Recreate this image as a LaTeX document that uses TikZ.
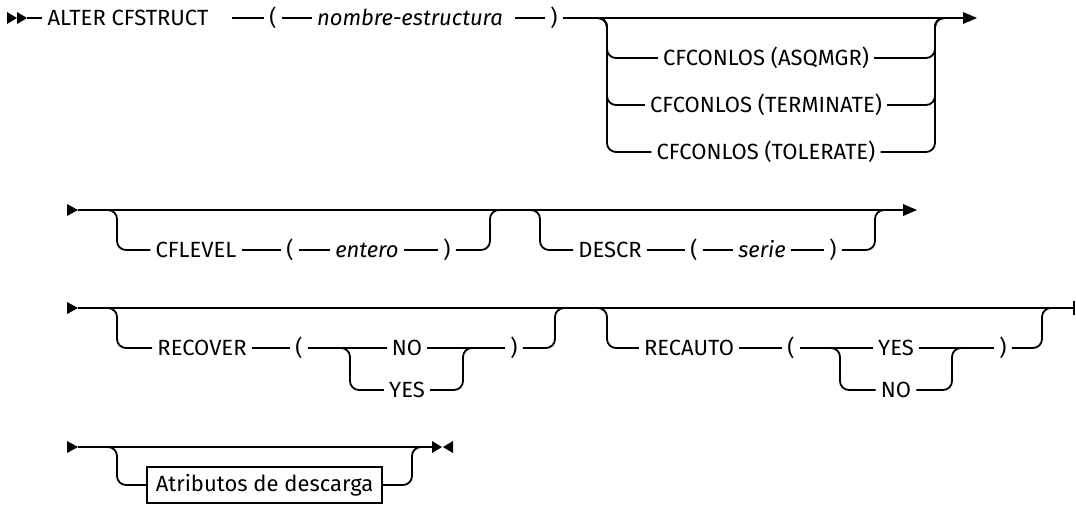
\documentclass[tikz,border=0pt]{standalone}
\usepackage{fontspec}
\newfontfamily\dfont{Fira Sans}
\tikzset{
  ln/.style={line width=1.8pt},
  rr/.style={line width=1.8pt, rounded corners=9pt},
  lbl/.style={inner xsep=5pt, inner ysep=0pt, text height=15.2pt, text depth=0pt, anchor=center, font=\dfont\fontsize{22}{26}\selectfont},
  arg/.style={lbl, font=\dfont\fontsize{22}{26}\selectfont\itshape},
  boxed/.style={draw, line width=1.8pt, inner xsep=8pt, minimum width=235pt, minimum height=36pt, anchor=center, font=\dfont\fontsize{22}{26}\selectfont},
}
\begin{document}
\begin{tikzpicture}[x=1pt,y=-1pt]
\useasboundingbox (0,0) rectangle (1076,504);
% ---------------- Row 1 ----------------
\fill (7,12) -- (17,18) -- (7,24) -- cycle;
\fill (17,12) -- (27,18) -- (17,24) -- cycle;
\coordinate (s1) at (27,18);
\node[lbl] (alter) at (128,18) {ALTER CFSTRUCT};
\coordinate (g1) at (232,18);
\node[lbl] (lp1) at (273,18) {(};
\node[arg] (nm) at (410,18) {nombre-estructura};
\coordinate (g2) at (515,18);
\node[lbl] (rp1) at (554,18) {)};
\coordinate (e1) at (963,18);
\draw[ln] (s1) -- (alter.west);
\draw[ln] (g1) -- (lp1.west);
\draw[ln] (lp1.east) -- (nm.west);
\draw[ln] (g2) -- (rp1.west);
\draw[ln] (rp1.east) -- (e1);
\fill (e1) ++(0,-6) -- ++(14,6) -- ++(-14,6) -- cycle;
\node[lbl] (o1) at (766,58) {CFCONLOS (ASQMGR)};
\node[lbl] (o2) at (766,105) {CFCONLOS (TERMINATE)};
\node[lbl] (o3) at (766,152) {CFCONLOS (TOLERATE)};
\coordinate (b1l) at (597,18);
\coordinate (b1r) at (945,18);
\foreach \n/\y in {o1/58,o2/105,o3/152}{
  \draw[rr] (b1l) -- (607,18) -- (607,\y) -- (\n.west);
  \draw[rr] (\n.east) -- (935,\y) -- (935,18) -- (b1r);
}
% ---------------- Row 2 ----------------
\fill (67,204) -- (78,210) -- (67,216) -- cycle;
\coordinate (s2) at (78,210);
\coordinate (e2) at (903,210);
\draw[ln] (s2) -- (e2);
\fill (e2) ++(0,-6) -- ++(14,6) -- ++(-14,6) -- cycle;
\coordinate (a2l) at (107,210);
\coordinate (a2r) at (500,210);
\node[lbl] (cfl) at (196,250) {CFLEVEL};
\node[lbl] (lp2) at (290,250) {(};
\node[arg] (ent) at (367,250) {entero};
\node[lbl] (rp2) at (447,250) {)};
\draw[rr] (a2l) -- (117,210) -- (117,250) -- (cfl.west);
\draw[ln] (cfl.east) -- (lp2.west);
\draw[ln] (lp2.east) -- (ent.west);
\draw[ln] (ent.east) -- (rp2.west);
\draw[rr] (rp2.east) -- (490,250) -- (490,210) -- (a2r);
\coordinate (d2l) at (530,210);
\coordinate (d2r) at (885,210);
\node[lbl] (des) at (610,250) {DESCR};
\node[lbl] (lp3) at (694,250) {(};
\node[arg] (ser) at (762,250) {serie};
\node[lbl] (rp3) at (833,250) {)};
\draw[rr] (d2l) -- (540,210) -- (540,250) -- (des.west);
\draw[ln] (des.east) -- (lp3.west);
\draw[ln] (lp3.east) -- (ser.west);
\draw[ln] (ser.east) -- (rp3.west);
\draw[rr] (rp3.east) -- (875,250) -- (875,210) -- (d2r);
% ---------------- Row 3 ----------------
\fill (67,302) -- (78,308) -- (67,314) -- cycle;
\coordinate (s3) at (78,308);
\coordinate (e3) at (1074,308);
\draw[ln] (s3) -- (e3);
\draw[ln] (1074,301) -- (1074,315);
\coordinate (a3l) at (107,308);
\coordinate (a3r) at (565,308);
\node[lbl] (rec) at (202,348) {RECOVER};
\node[lbl] (lp4) at (299,348) {(};
\node[lbl] (no1) at (407,348) {NO};
\node[lbl] (yes1) at (407,390) {YES};
\node[lbl] (rp4) at (514,348) {)};
\coordinate (n1l) at (340,348);
\coordinate (n1r) at (473,348);
\draw[rr] (a3l) -- (117,308) -- (117,348) -- (rec.west);
\draw[ln] (rec.east) -- (lp4.west);
\draw[ln] (lp4.east) -- (no1.west);
\draw[ln] (no1.east) -- (rp4.west);
\draw[rr] (n1l) -- (350,348) -- (350,390) -- (yes1.west);
\draw[rr] (yes1.east) -- (463,390) -- (463,348) -- (n1r);
\draw[rr] (rp4.east) -- (555,348) -- (555,308) -- (a3r);
\coordinate (b3l) at (597,308);
\coordinate (b3r) at (1052,308);
\node[lbl] (reca) at (689,348) {RECAUTO};
\node[lbl] (lp5) at (791,348) {(};
\node[lbl] (yes2) at (896,348) {YES};
\node[lbl] (no2) at (896,390) {NO};
\node[lbl] (rp5) at (1003,348) {)};
\coordinate (n2l) at (830,348);
\coordinate (n2r) at (962,348);
\draw[rr] (b3l) -- (607,308) -- (607,348) -- (reca.west);
\draw[ln] (reca.east) -- (lp5.west);
\draw[ln] (lp5.east) -- (yes2.west);
\draw[ln] (yes2.east) -- (rp5.west);
\draw[rr] (n2l) -- (840,348) -- (840,390) -- (no2.west);
\draw[rr] (no2.east) -- (952,390) -- (952,348) -- (n2r);
\draw[rr] (rp5.east) -- (1042,348) -- (1042,308) -- (b3r);
% ---------------- Row 4 ----------------
\fill (67,441) -- (78,447) -- (67,453) -- cycle;
\coordinate (s4) at (78,447);
\coordinate (e4) at (432,447);
\draw[ln] (s4) -- (e4);
\fill (432,441) -- (442,447) -- (432,453) -- cycle;
\fill (453,441) -- (443,447) -- (453,453) -- cycle;
\coordinate (a4l) at (107,447);
\coordinate (a4r) at (422,447);
\node[boxed] (box) at (264.5,485) {Atributos de descarga};
\draw[rr] (a4l) -- (117,447) -- (117,485) -- (box.west);
\draw[rr] (box.east) -- (412,485) -- (412,447) -- (a4r);
\end{tikzpicture}
\end{document}
